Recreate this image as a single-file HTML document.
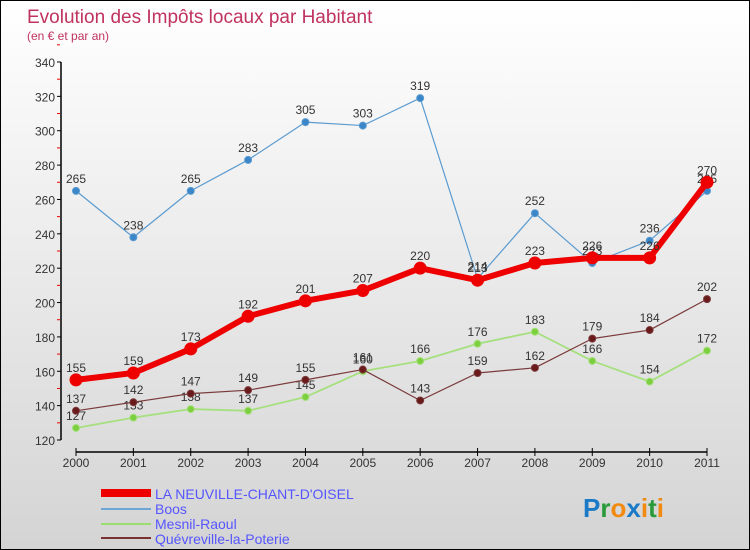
<!DOCTYPE html>
<html><head><meta charset="utf-8"><style>
body{margin:0}
#c{width:750px;height:550px;position:relative;box-sizing:border-box;border:1px solid #000;background:linear-gradient(#ffffff,#d4d4d4);font-family:"Liberation Sans",sans-serif;overflow:hidden}
</style></head><body>
<div id="c">
<svg id="s" width="748" height="548" style="position:absolute;left:0;top:0">
<text x="26" y="22" font-size="19" fill="#c0325f">Evolution des Impôts locaux par Habitant</text>
<text x="26" y="39" font-size="12" fill="#c0325f">(en € et par an)</text>
<g id="axes"></g><g id="series"></g>
<g>
<rect x="100" y="488" width="50" height="8" fill="#e00"/>
<text x="154" y="498" font-size="14" fill="#55f">LA NEUVILLE-CHANT-D'OISEL</text>
<rect x="100" y="507" width="50" height="2" fill="#6ea6d6"/>
<text x="154" y="513" font-size="14" fill="#55f">Boos</text>
<rect x="100" y="522" width="50" height="2" fill="#9ade70"/>
<text x="154" y="528" font-size="14" fill="#55f">Mesnil-Raoul</text>
<rect x="100" y="536" width="50" height="2" fill="#7a3030"/>
<text x="154" y="543" font-size="14" fill="#55f">Quévreville-la-Poterie</text>
</g>
<text x="582" y="516" font-size="26" font-weight="bold"><tspan fill="#1a7ac8">P</tspan><tspan fill="#2a9a3a">r</tspan><tspan fill="#f08a10">o</tspan><tspan fill="#1a7ac8">x</tspan><tspan fill="#f08a10">i</tspan><tspan fill="#2a9a3a">t</tspan><tspan fill="#f08a10">i</tspan></text>
</svg></div>
<script>
const years=["2000","2001","2002","2003","2004","2005","2006","2007","2008","2009","2010","2011"];
const neuville=[155,159,173,192,201,207,220,213,223,226,226,270];
const boos=[265,238,265,283,305,303,319,214,252,223,236,265];
const mesnil=[127,133,138,137,145,160,166,176,183,166,154,172];
const quevreville=[137,142,147,149,155,161,143,159,162,179,184,202];
const yTicks=[120,140,160,180,200,220,240,260,280,300,320,340];
const NS="http://www.w3.org/2000/svg";
const X=i=>75+i*(631/11);
const Y=v=>439-(v-120)*(378/220);
function mk(t,a,p){const e=document.createElementNS(NS,t);for(const k in a)e.setAttribute(k,a[k]);p.appendChild(e);return e;}
const ax=document.getElementById('axes');
let l=mk('line',{x1:60,y1:Y(340),x2:60,y2:Y(120),stroke:'#000','stroke-width':1.5},ax);


yTicks.forEach(v=>{
 let t=mk('line',{x1:56,y1:Y(v),x2:60,y2:Y(v),stroke:'#000'},ax);
 
 
 let m=mk('line',{x1:56,y1:Y(v+10),x2:59,y2:Y(v+10),stroke:'#e00'},ax);
 
 
 let tx=mk('text',{x:54,y:Y(v)+5,'font-size':12,fill:'#333','text-anchor':'end'},ax);tx.textContent=v;
 
 
});
l=mk('line',{x1:X(0),y1:451,x2:X(11),y2:451,stroke:'#000','stroke-width':1.5},ax);


years.forEach((y,i)=>{
 let t=mk('line',{x1:X(i),y1:447,x2:X(i),y2:455,stroke:'#000'},ax);
 
 
 let tx=mk('text',{x:X(i),y:466,'font-size':12,fill:'#333','text-anchor':'middle'},ax);tx.textContent=y;
 
 
});
const sg=document.getElementById('series');
function draw(data,name,color,w,r,dot){
 const g=mk('g',{},sg);
 
 
 const p=mk('polyline',{points:data.map((v,i)=>X(i)+','+Y(v)).join(' '),fill:'none',stroke:color,'stroke-width':w,'stroke-linejoin':'round'},g);
 
 
 data.forEach((v,i)=>{
  const c=mk('circle',{cx:X(i),cy:Y(v),r:r,fill:dot,stroke:color,'stroke-width':1},g);
  
  
  const t=mk('text',{x:X(i),y:Y(v)-8,'font-size':12,fill:'#333','text-anchor':'middle'},g);t.textContent=v;
  
  
 });
}
draw(boos,'boos','#5b9bd0',1.2,3.5,'#3a86c8');
draw(mesnil,'mesnil','#a6e07e',1.8,3.5,'#7ccf3e');
draw(quevreville,'quevreville','#7a3a3a',1.2,3.5,'#6a1a1a');
draw(neuville,'neuville','#ee0000',6,6,'#ee0000');
</script>
</body></html>
